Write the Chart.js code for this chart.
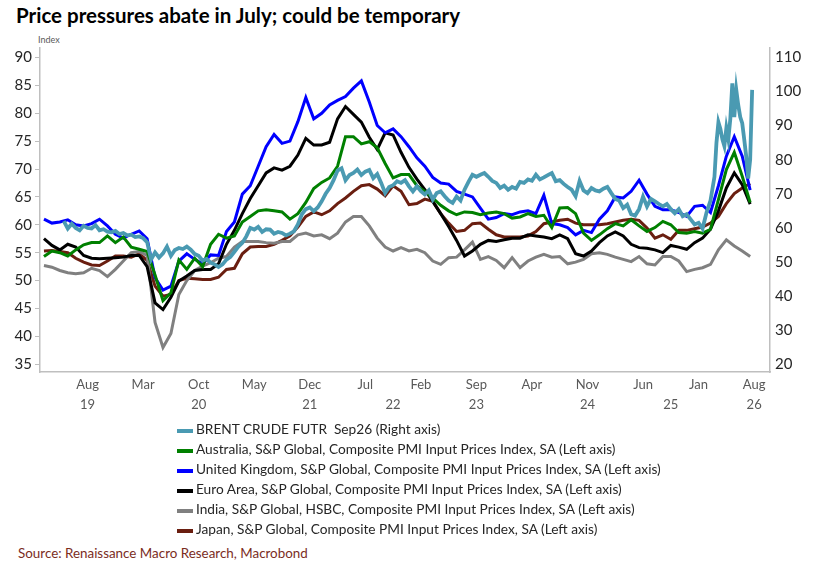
<!DOCTYPE html>
<html>
<head>
<meta charset="utf-8">
<script src="https://cdn.jsdelivr.net/npm/chart.js@4.4.1/dist/chart.umd.min.js"></script>
<style>
  body { margin: 0; width: 813px; height: 565px; background: #fff; position: relative; overflow: hidden;
         font-family: Lato, "Open Sans", sans-serif; }
  #title { position: absolute; left: 16px; top: 3px; font-size: 20.5px; font-weight: bold; color: #000; white-space: nowrap; }
  #unit { position: absolute; left: 38px; top: 34px; font-size: 9px; color: #595959; }
  #wrap { position: absolute; left: 0; top: 30px; width: 813px; height: 390px; }
  #legend { position: absolute; left: 177px; top: 419px; font-size: 13.7px; color: #262626; }
  .row { height: 20px; line-height: 20px; white-space: pre; }
  .sw { display: inline-block; width: 16px; height: 4px; vertical-align: middle; margin-right: 3px; }
  #source { position: absolute; left: 18px; top: 545px; font-size: 13.4px; color: #7b2d1e; white-space: nowrap; }
</style>
</head>
<body>
<div id="title">Price pressures abate in July; could be temporary</div>
<div id="unit">Index</div>
<div id="wrap"><canvas id="chart"></canvas></div>
<div id="legend"></div>
<div id="source">Source: Renaissance Macro Research, Macrobond</div>
<script>
// month axis: 1 = Feb 2019, 7 = Aug 2019 ... 91 = Aug 2026
const monthTickPos = [7, 14, 21, 28, 35, 42, 49, 56, 63, 70, 77, 84, 91];
const monthTickLabels = ['Aug', 'Mar', 'Oct', 'May', 'Dec', 'Jul', 'Feb', 'Sep', 'Apr', 'Nov', 'Jun', 'Jan', 'Aug'];
const yearTickPos = [7, 21, 35, 45.5, 56, 70, 80.5, 91];
const yearTickLabels = ['19', '20', '21', '22', '23', '24', '25', '26'];
const leftTicks = [35, 40, 45, 50, 55, 60, 65, 70, 75, 80, 85, 90];
const rightTicks = [20, 30, 40, 50, 60, 70, 80, 90, 100, 110];

// monthly PMI input prices, Feb 2019 .. Jul 2026
const australia = [
  54.3, 55.3, 55.0, 54.4, 55.5, 56.4, 56.8, 56.8, 58.0, 56.8,
  57.8, 56.0, 55.6, 55.2, 51.0, 46.4, 47.8, 53.7, 52.0, 54.0,
  52.5, 56.5, 58.3, 57.6, 58.0, 60.5, 61.5, 62.5, 62.7, 62.5,
  62.3, 61.0, 62.0, 64.0, 66.5, 67.6, 68.4, 70.5, 75.8, 75.8,
  74.5, 74.9, 73.8, 71.0, 68.4, 69.0, 69.0, 67.0, 66.0, 64.8,
  63.5, 62.5, 61.8, 62.3, 62.2, 61.8, 62.1, 62.3, 62.0, 61.2,
  61.4, 62.0, 61.5, 61.7, 59.5, 63.0, 63.1, 62.0, 58.5, 57.2,
  58.2, 59.3, 60.2, 59.8, 60.9, 59.8, 58.8, 59.5, 60.6, 60.0,
  58.6, 58.5, 58.8, 58.5, 59.2, 64.5, 69.9, 73.0, 68.7, 64.0
];
const unitedKingdom = [
  61.0, 60.3, 60.5, 60.9, 60.0, 59.8, 60.2, 61.0, 59.8, 58.3,
  57.6, 58.3, 58.9, 57.5, 50.5, 48.3, 49.0, 53.5, 54.8, 53.8,
  53.0, 54.6, 54.5, 58.8, 60.5, 65.5, 67.0, 70.5, 74.0, 76.2,
  74.6, 75.0, 78.5, 82.8, 79.0, 80.0, 81.5, 82.3, 83.0, 84.5,
  85.8, 82.0, 77.8, 76.5, 77.2, 75.8, 74.0, 72.0, 70.5, 68.5,
  67.5, 67.3, 66.0, 65.5, 65.0, 63.0, 61.0, 61.3, 62.0, 61.8,
  62.3, 62.5, 62.0, 65.3, 60.2, 60.0, 59.5, 58.2, 59.0, 58.6,
  61.0, 62.5, 65.0, 64.8, 66.0, 68.0, 65.5, 63.3, 62.7, 62.7,
  62.2, 61.5, 63.3, 63.5, 62.2, 67.0, 72.3, 75.8, 72.3, 66.2
];
const euroArea = [
  57.5, 56.3, 55.5, 56.5, 56.0, 54.5, 54.0, 53.9, 54.0, 54.1,
  54.2, 54.5, 54.5, 52.5, 46.0, 44.8, 47.0, 49.9, 50.8, 51.8,
  52.0, 52.0, 53.0, 56.5, 59.0, 62.0, 64.7, 67.0, 69.3, 70.2,
  69.8, 70.5, 72.5, 75.5, 74.3, 74.3, 74.8, 79.0, 81.2, 79.8,
  78.4, 75.7, 73.5, 76.5, 76.1, 73.0, 70.3, 68.2, 66.3, 64.2,
  62.0, 59.7, 57.2, 54.4, 55.3, 56.5, 57.2, 57.0, 57.3, 57.6,
  57.6, 58.2, 58.0, 57.8, 57.5, 58.2, 57.5, 54.8, 54.4, 55.3,
  56.8, 58.0, 58.7, 58.0, 56.5, 55.9, 55.8, 55.5, 55.0, 56.3,
  56.0, 55.6, 56.8, 57.6, 59.2, 62.5, 66.6, 69.3, 67.2, 63.7
];
const india = [
  52.7, 52.4, 51.8, 51.4, 51.2, 51.4, 52.2, 51.8, 50.7, 52.0,
  53.5, 55.0, 55.2, 54.5, 42.5, 38.0, 40.5, 47.5, 50.0, 51.8,
  52.6, 53.2, 54.0, 54.3, 56.0, 57.0, 57.0, 57.0, 56.8, 56.7,
  57.0, 57.0, 58.2, 58.5, 58.0, 58.2, 57.5, 58.5, 60.5, 61.5,
  61.5, 59.8, 57.6, 56.0, 55.3, 55.9, 55.3, 55.6, 55.0, 53.5,
  52.9, 54.1, 54.2, 55.5, 56.9, 53.8, 54.3, 53.6, 52.3, 54.1,
  52.3, 53.5, 54.2, 54.7, 54.2, 54.3, 53.0, 53.3, 53.8, 54.8,
  55.0, 54.7, 54.2, 53.8, 53.4, 54.3, 53.0, 52.8, 54.3, 54.3,
  53.5, 51.6, 52.0, 52.3, 52.9, 55.5, 57.3, 56.2, 55.3, 54.3
];
const japan = [
  55.3, 55.4, 55.2, 55.0, 54.0, 53.3, 52.8, 52.7, 53.5, 54.4,
  54.4, 54.2, 54.8, 53.6, 49.0, 47.2, 47.5, 50.0, 50.4, 50.3,
  50.2, 50.2, 50.6, 52.0, 52.2, 54.8, 56.0, 56.1, 56.1, 56.5,
  57.2, 58.0, 59.6, 61.5, 62.3, 61.8, 62.5, 63.8, 64.8, 66.0,
  67.0, 67.2, 66.4, 65.2, 67.0, 66.0, 63.6, 63.8, 64.6, 64.2,
  62.0, 60.3, 58.8, 59.0, 60.2, 60.3, 59.2, 58.2, 57.8, 57.8,
  57.8, 58.0, 58.8, 60.2, 60.5, 60.8, 61.0, 60.3, 60.0, 60.0,
  60.0, 60.2, 60.5, 60.8, 61.0, 60.8, 59.4, 57.6, 58.2, 57.4,
  59.0, 59.0, 59.3, 59.6, 60.3, 61.5, 63.8, 65.6, 66.6, 67.4
];

// Brent Sep26 future, semi-monthly readings from month 4.0 (May 2019) to 86.0
const brentValues = [
  62.0, 59.8, 61.2, 60.0, 59.3, 60.6, 60.0, 59.8, 60.8, 59.3,
  59.6, 58.9, 58.7, 59.1, 58.2, 58.5, 57.8, 58.0, 57.3, 57.5,
  57.0, 55.8, 50.7, 52.8, 51.3, 52.5, 54.5, 51.8, 53.5, 54.1,
  53.8, 54.5, 53.6, 52.3, 51.8, 50.4, 50.9, 49.8, 49.3, 48.5,
  49.3, 50.7, 51.5, 53.0, 54.5, 55.6, 57.5, 60.0, 59.5, 60.3,
  58.8, 59.6, 59.5, 58.3, 58.8, 58.5, 57.8, 58.3, 59.0, 61.0,
  64.0, 65.5, 66.0, 64.9, 66.0, 67.8, 70.0, 71.7, 74.0, 76.8,
  77.5, 74.0, 75.5, 76.1, 77.1, 75.5, 76.5, 77.0, 74.6, 75.8,
  73.2, 70.2, 72.0, 72.5, 73.7, 73.2, 74.0, 72.2, 70.7, 72.2,
  70.8, 69.8, 71.0, 68.3, 70.2, 70.7, 69.3, 68.0, 67.3, 69.2,
  68.0, 71.2, 73.5, 75.6, 75.0, 75.6, 76.1, 75.0, 73.8, 73.2,
  71.7, 72.4, 71.2, 72.0, 71.5, 73.5, 73.2, 74.2, 73.8, 75.6,
  74.2, 74.8, 75.5, 76.1, 73.7, 74.0, 72.9, 72.0, 71.2, 69.3,
  73.8, 71.0, 70.2, 71.7, 71.0, 70.7, 71.5, 72.0, 70.2, 68.5,
  68.0, 65.8, 66.8, 64.0, 63.6, 65.5, 69.2, 66.3, 68.5, 67.8,
  67.0, 66.3, 67.0, 65.5, 64.3, 65.5, 63.4, 64.0, 62.5, 61.0,
  61.5, 59.8, 64.5, 68.0, 75.0
];
// 2026 spike, read at quarter-month spacing
const brentTailMonths = [86.25, 86.5, 86.75, 87, 87.25, 87.5, 87.75, 88, 88.25, 88.5,
  88.75, 89, 89.25, 89.5, 89.75, 90, 90.25, 90.5, 90.75];
const brentTailValues = [84.9, 91.0, 89.0, 86.0, 84.0, 89.3, 86.0, 92.0, 102.4, 92.5,
  100.5, 96.0, 92.5, 90.7, 86.0, 81.0, 74.5, 80.0, 100.5];

const brentMonths = brentValues.map((_, i) => 4 + i * 0.5).concat(brentTailMonths);
const brentAll = brentValues.concat(brentTailValues);

function monthly(values) {
  return values.map((v, i) => ({ x: 1.5 + i, y: v }));
}

const series = [
  { label: 'BRENT CRUDE FUTR  Sep26 (Right axis)', color: '#4a9ab2', width: 3.8, axis: 'y1',
    points: brentAll.map((v, i) => ({ x: brentMonths[i], y: v })) },
  { label: 'Australia, S&P Global, Composite PMI Input Prices Index, SA (Left axis)', color: '#008000', width: 3, axis: 'y', points: monthly(australia) },
  { label: 'United Kingdom, S&P Global, Composite PMI Input Prices Index, SA (Left axis)', color: '#0000ff', width: 3, axis: 'y', points: monthly(unitedKingdom) },
  { label: 'Euro Area, S&P Global, Composite PMI Input Prices Index, SA (Left axis)', color: '#000000', width: 3, axis: 'y', points: monthly(euroArea) },
  { label: 'India, S&P Global, HSBC, Composite PMI Input Prices Index, SA (Left axis)', color: '#808080', width: 3, axis: 'y', points: monthly(india) },
  { label: 'Japan, S&P Global, Composite PMI Input Prices Index, SA (Left axis)', color: '#6a1e10', width: 3, axis: 'y', points: monthly(japan) }
];

const legend = document.getElementById('legend');
series.forEach(s => {
  const row = document.createElement('div');
  row.className = 'row';
  const sw = document.createElement('span');
  sw.className = 'sw';
  sw.style.background = s.color;
  row.appendChild(sw);
  row.appendChild(document.createTextNode(s.label));
  legend.appendChild(row);
});

const tickFont = { family: 'Lato, "Open Sans", sans-serif', size: 15 };
const axisFont = { family: 'Lato, "Open Sans", sans-serif', size: 13 };

new Chart(document.getElementById('chart').getContext('2d'), {
  type: 'line',
  data: {
    datasets: series.map(s => ({
      label: s.label, data: s.points, yAxisID: s.axis, xAxisID: 'x',
      borderColor: s.color, backgroundColor: s.color, borderWidth: s.width,
      pointRadius: 0, tension: 0, fill: false
    }))
  },
  options: {
    responsive: true,
    maintainAspectRatio: false,
    animation: false,
    layout: { padding: { top: 18, bottom: 6, left: 0, right: 0 } },
    plugins: { legend: { display: false }, tooltip: { enabled: false } },
    scales: {
      x: {
        type: 'linear', min: 1, max: 93, position: 'bottom', weight: 0,
        afterBuildTicks: s => { s.ticks = monthTickPos.map(v => ({ value: v })); },
        afterFit: s => { s.height = 22; },
        ticks: { autoSkip: false, maxRotation: 0, padding: 5, color: '#595959', font: axisFont,
                 callback: (v, i) => monthTickLabels[i] },
        grid: { display: false, drawTicks: false },
        border: { display: true, color: '#bfbfbf', width: 1.5 }
      },
      x2: {
        type: 'linear', min: 1, max: 93, position: 'bottom', weight: 1,
        afterBuildTicks: s => { s.ticks = yearTickPos.map(v => ({ value: v })); },
        afterFit: s => { s.height = 20; },
        ticks: { autoSkip: false, maxRotation: 0, padding: 3, color: '#595959', font: axisFont,
                 callback: (v, i) => yearTickLabels[i] },
        grid: { display: false, drawTicks: false },
        border: { display: false }
      },
      y: {
        position: 'left', min: 33.6, max: 91.7,
        afterBuildTicks: s => { s.ticks = leftTicks.map(v => ({ value: v })); },
        afterFit: s => { s.width = 40; },
        ticks: { padding: 3, color: '#262626', font: tickFont },
        grid: { display: true, drawOnChartArea: false, drawTicks: true, tickLength: 5, color: '#bfbfbf' },
        border: { display: true, color: '#bfbfbf', width: 1.5 }
      },
      y1: {
        position: 'right', min: 17.71, max: 112.78,
        afterBuildTicks: s => { s.ticks = rightTicks.map(v => ({ value: v })); },
        afterFit: s => { s.width = 43; },
        ticks: { padding: 5, color: '#262626', font: tickFont },
        grid: { display: false, drawTicks: false },
        border: { display: true, color: '#bfbfbf', width: 1.5 }
      }
    }
  }
});
</script>
</body>
</html>
